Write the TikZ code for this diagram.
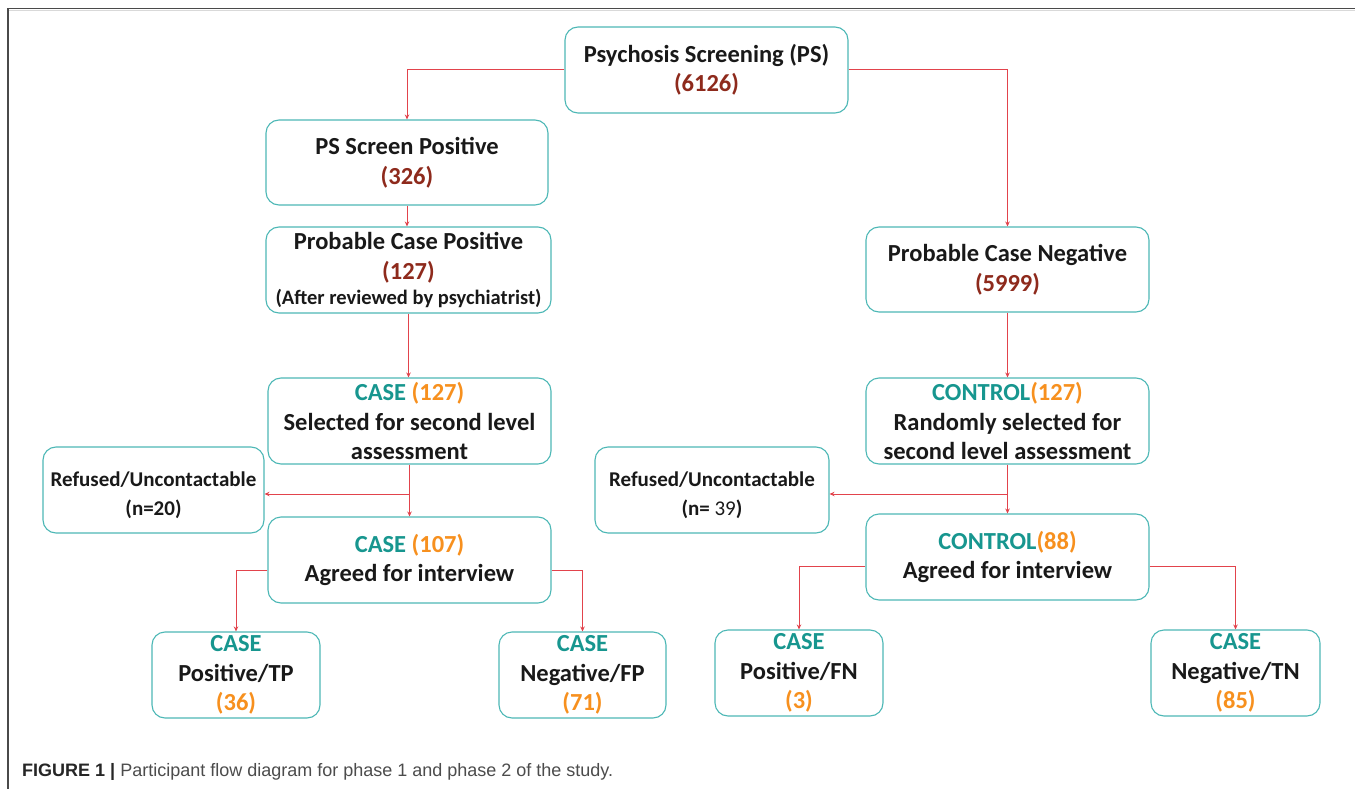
\documentclass[tikz,border=0pt]{standalone}
\usepackage{fontspec}
\setmainfont{Carlito}
\newfontfamily\capfont{Liberation Sans}
\usetikzlibrary{arrows.meta}
\definecolor{boxc}{HTML}{4DB8B6}
\definecolor{tealt}{HTML}{17968F}
\definecolor{orng}{HTML}{F7901E}
\definecolor{dred}{HTML}{8E2A1C}
\definecolor{linec}{HTML}{E2434C}
\definecolor{framec}{HTML}{4A4A4A}
\newcommand{\tl}[1]{{\color{tealt}#1}}
\newcommand{\og}[1]{{\color{orng}#1}}
\newcommand{\dr}[1]{{\color{dred}#1}}
\newcommand{\topstrut}{\rule{0pt}{25pt}}
\begin{document}
\begin{tikzpicture}[x=1pt,y=-1pt,
  box/.style={draw=boxc, line width=1.1pt, rounded corners=13pt, align=center,
    inner sep=0pt, fill=white, text=black!90,
    font=\fontsize{24.5}{29.5}\selectfont\bfseries},
  sbox/.style={box, font=\fontsize{21}{29}\selectfont\bfseries},
  arr/.style={draw=linec, line width=1pt, -{Stealth[length=5pt,width=4.5pt]}}]
\useasboundingbox (0,0) rectangle (1355,789);
\fill[white] (0,0) rectangle (1355,789);
\draw[framec, line width=1.8pt] (8,789) -- (8,8.5) -- (1355,8.5);
\draw[black!15, line width=0.8pt] (9,10.3) -- (1355,10.3);

\node[box, minimum width=283pt, minimum height=86pt] (ps) at (706.5,70)
  {Psychosis Screening (PS)\\\dr{(6126)}};
\node[box, minimum width=282pt, minimum height=85pt] (psp) at (407,162.5)
  {PS Screen Positive\\\dr{(326)}};
\node[box, minimum width=285pt, minimum height=86pt] (pcp) at (408.5,270)
  {Probable Case Positive\\\dr{(127)}\\[-4pt]{\fontsize{20.5}{22}\selectfont (After reviewed by psychiatrist)}};
\node[box, minimum width=283pt, minimum height=85pt] (pcn) at (1007.5,269.5)
  {Probable Case Negative\\\dr{(5999)}};
\node[box, minimum width=283pt, minimum height=86pt] (c127) at (409.5,421)
  {\tl{CASE} \og{(127)}\\Selected for second level\\assessment};
\node[box, minimum width=283pt, minimum height=86pt] (k127) at (1007.5,421)
  {\tl{CONTROL}\og{(127)}\\Randomly selected for\\second level assessment};
\node[sbox, minimum width=221pt, minimum height=86pt] (refL) at (153.5,490)
  {\topstrut Refused/Uncontactable\\(n=20)};
\node[sbox, minimum width=234pt, minimum height=86pt] (refR) at (712,490)
  {\topstrut Refused/Uncontactable\\(n= {\mdseries 39})};
\node[box, minimum width=283pt, minimum height=86pt] (c107) at (409.5,560)
  {\tl{CASE} \og{(107)}\\Agreed for interview};
\node[box, minimum width=283pt, minimum height=86pt] (k88) at (1007.5,557)
  {\tl{CONTROL}\og{(88)}\\Agreed for interview};
\node[box, minimum width=168pt, minimum height=86pt] (tp) at (236,675)
  {\tl{CASE}\\Positive/TP\\\og{(36)}};
\node[box, minimum width=167pt, minimum height=86pt] (fp) at (582.5,675)
  {\tl{CASE}\\Negative/FP\\\og{(71)}};
\node[box, minimum width=168pt, minimum height=86pt] (fn) at (799,673)
  {\tl{CASE}\\Positive/FN\\\og{(3)}};
\node[box, minimum width=169pt, minimum height=86pt] (tn) at (1235.5,673)
  {\tl{CASE}\\Negative/TN\\\og{(85)}};

\coordinate (jL) at (c127.south |- 0,494);
\coordinate (jR) at (k127.south |- 0,494);

\draw[arr] (ps.west) -| (psp.north);
\draw[arr] (ps.east) -| (pcn.north);
\draw[arr] (psp.south) -- (psp.south |- pcp.north);
\draw[arr] (pcp.south) -- (pcp.south |- c127.north);
\draw[arr] (pcn.south) -- (pcn.south |- k127.north);
\draw[arr] (c127.south) -- (c107.north);
\draw[arr] (jL) -- (jL -| refL.east);
\draw[arr] (k127.south) -- (k88.north);
\draw[arr] (jR) -- (jR -| refR.east);
\draw[arr] (c107.west |- 0,570) -| (tp.north);
\draw[arr] (c107.east |- 0,570) -| (fp.north);
\draw[arr] (k88.west |- 0,566) -| (fn.north);
\draw[arr] (k88.east |- 0,566) -| (tn.north);

\node[anchor=base west, inner sep=0pt, font=\capfont\fontsize{18}{22}\selectfont] (cap) at (22,776)
  {{\bfseries\color{black!85}FIGURE 1 |} {\color{black!70}Participant flow diagram for phase 1 and phase 2 of the study.}};
\end{tikzpicture}
\end{document}
